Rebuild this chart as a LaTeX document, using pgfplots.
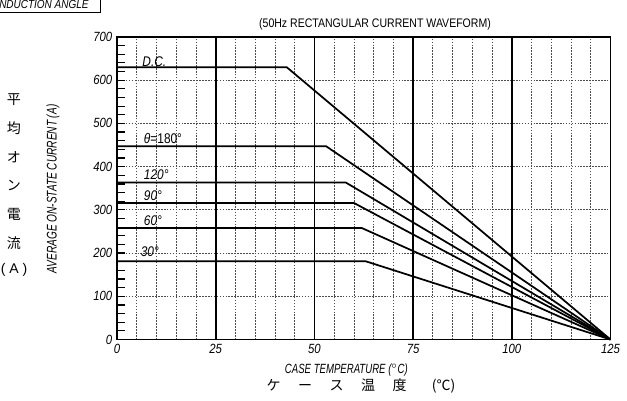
\documentclass[border=0pt]{standalone}
\usepackage{fontspec}
\setmainfont{Liberation Sans}
\newfontfamily\cond[FakeStretch=0.85]{Liberation Sans}
\newfontfamily\narrow[FakeStretch=0.72]{Liberation Sans}
\newfontfamily\cjk{Noto Sans CJK JP}
\usepackage{pgfplots}
\pgfplotsset{compat=1.18}

\begin{document}
\begin{tikzpicture}
% page frame: 627x400 px at 0.75pt per px, origin at the axis' lower left corner
\useasboundingbox (-87.75pt,-45.375pt) rectangle (382.5pt,254.625pt);

\begin{axis}[
    scale only axis,
    width=370.1pt, height=226.9pt,
    xmin=0, xmax=125, ymin=0, ymax=700,
    axis line style={line width=1.3pt},
    /pgf/number format/assume math mode=true,
    tick label style={font=\cond\itshape\fontsize{10}{12}\selectfont},
    xtick={0,25,...,125},
    minor xtick={5,10,15,20,30,35,40,45,55,60,65,70,80,85,90,95,105,110,115,120},
    ytick={0,100,...,700},
    minor ytick={20,40,60,80,120,140,160,180,220,240,260,280,320,340,360,380,420,440,460,480,520,540,560,580,620,640,660,680},
    xminorgrids, ymajorgrids,
    major grid style={black!70, line width=0.55pt, dash pattern=on 1.2pt off 1pt},
    minor grid style={black!70, line width=0.55pt, dash pattern=on 1.2pt off 1pt},
    extra x ticks={25,50,75,100},
    extra x tick labels={},
    extra x tick style={grid=major, major grid style={black, solid, line width=1.3pt}},
    tick align=inside,
    ytick pos=left,
    major tick length=6pt, minor tick length=6pt,
    major x tick style={draw=none}, minor x tick style={draw=none},
    tick style={black, line width=0.9pt},
    clip=false,
]
\addplot[black, line width=1.3pt] coordinates {(0,630) (43,630) (125,0)};
\addplot[black, line width=1.3pt] coordinates {(0,447) (53,447) (125,0)};
\addplot[black, line width=1.3pt] coordinates {(0,363) (58,363) (125,0)};
\addplot[black, line width=1.3pt] coordinates {(0,316) (60,316) (125,0)};
\addplot[black, line width=1.3pt] coordinates {(0,258) (62,258) (125,0)};
\addplot[black, line width=1.3pt] coordinates {(0,181) (63,181) (125,0)};

\begin{scope}[every node/.style={anchor=west, inner sep=0.5pt, font=\cond\itshape\fontsize{10.5}{12}\selectfont}]
\node at (axis cs:6.2,643) {D.C.};
\node[font=\cond\fontsize{10.5}{12}\selectfont] at (axis cs:6.6,466) {\textit{θ}=180°};
\node at (axis cs:6.6,381) {120°};
\node at (axis cs:6.6,332) {90°};
\node at (axis cs:6.6,274) {60°};
\node at (axis cs:5.8,203) {30°};
\end{scope}
\end{axis}

% title
\node[font=\cond\fontsize{9.3}{11}\selectfont] at (193.5pt,236.6pt) {(50Hz RECTANGULAR CURRENT WAVEFORM)};
% y labels
\node[rotate=90, font=\narrow\itshape\fontsize{10.5}{12}\selectfont] at (-48pt,112.9pt) {AVERAGE ON-STATE CURRENT (A)};
\foreach \c/\py in {平/100,均/128,オ/157,ン/186,電/214,流/243}
  \node[font=\cjk\fontsize{10.5}{12}\selectfont] at (-77.25pt,{(339.5-\py)*0.75pt}) {\c};
\node[font=\fontsize{10.5}{12}\selectfont] at (-77.25pt,{(339.5-270)*0.75pt}) {( A )};
% x labels
\node[font=\narrow\itshape\fontsize{10}{12}\selectfont] at (172pt,-22.9pt) {CASE TEMPERATURE ($^\circ$C)};
\node[font=\cjk\fontsize{10.5}{12}\selectfont] at (183pt,-34.9pt) {ケ\hspace{1.25em}ー\hspace{1.25em}ス\hspace{1.25em}温\hspace{1.25em}度\hspace{1.8em}(℃)};
% cut-off box at the top left
\draw[line width=0.7pt] (-95pt,245.6pt) -- (-12.75pt,245.6pt) -- (-12.75pt,260pt);
\node[anchor=west, inner sep=0pt, font=\cond\itshape\fontsize{8.8}{10}\selectfont] at (-88.5pt,251pt) {NDUCTION ANGLE};
\end{tikzpicture}
\end{document}
